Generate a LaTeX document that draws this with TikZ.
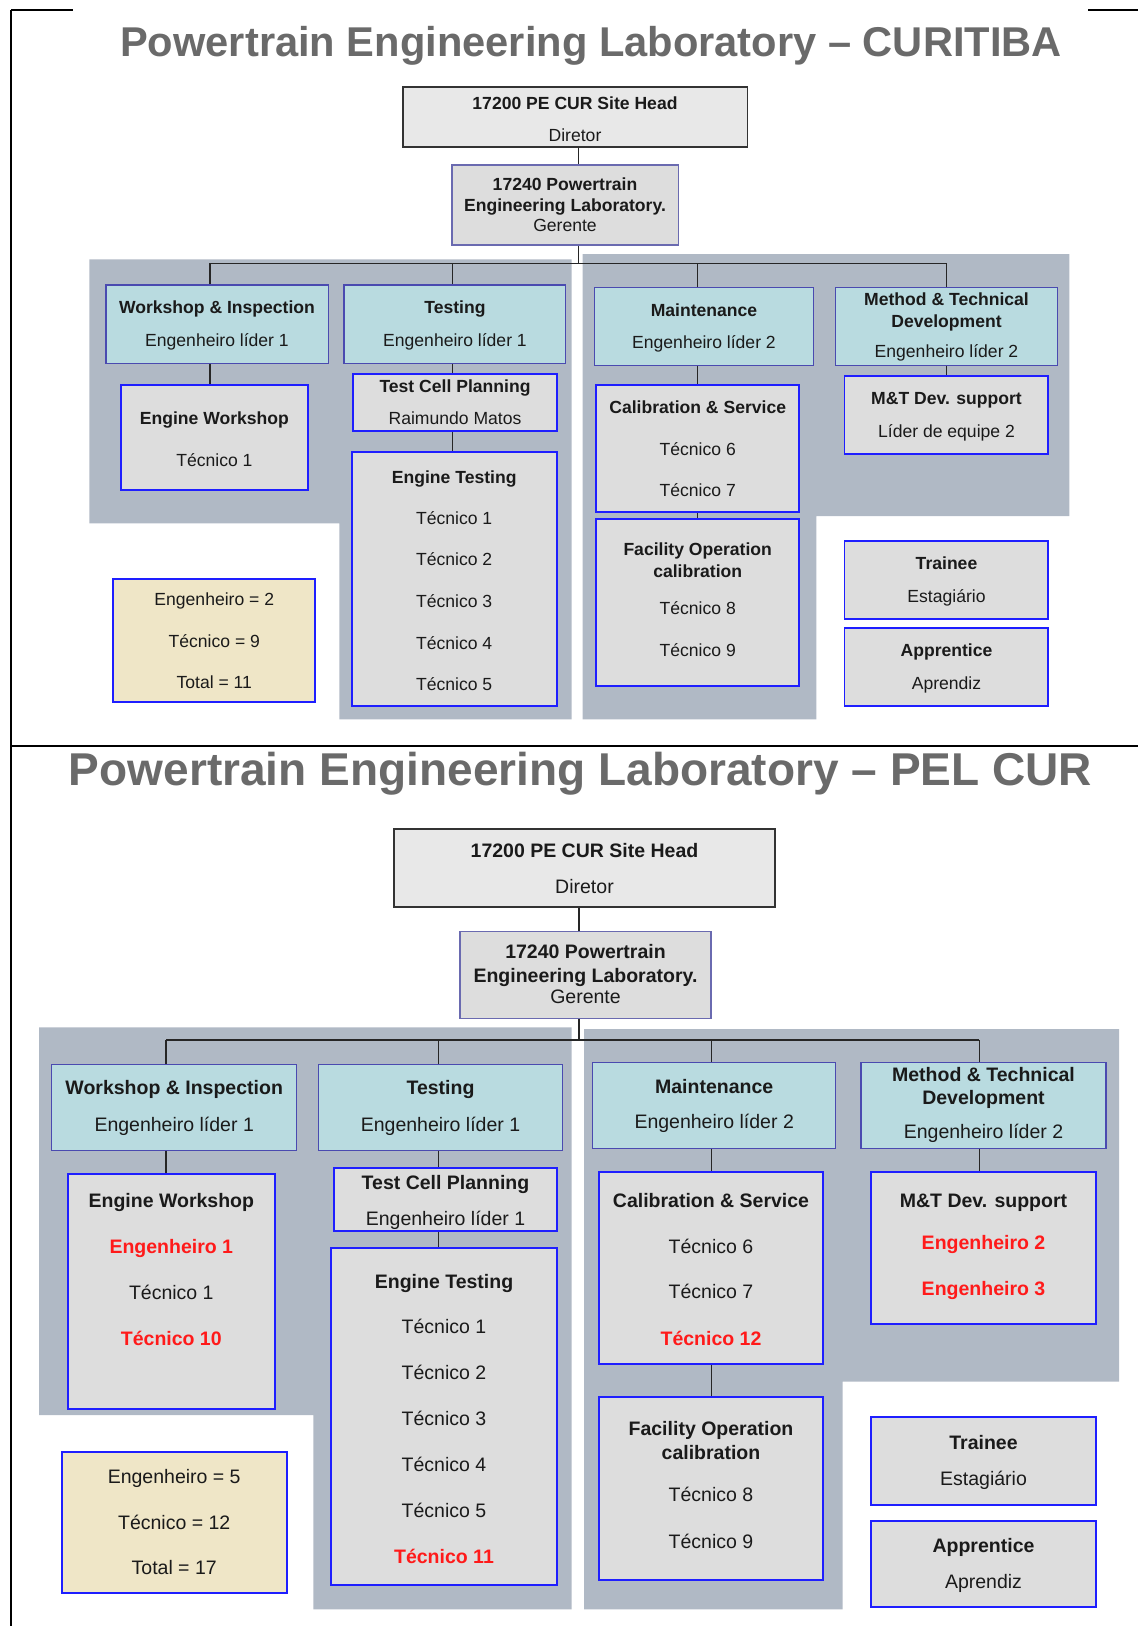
\documentclass[tikz,border=0pt]{standalone}
\usepackage{fontspec}
\setmainfont{Liberation Sans}
\usepackage{xcolor}
\usetikzlibrary{fit}
\definecolor{pelband}{HTML}{B0B9C5}
\definecolor{unitfill}{HTML}{B9DBE0}
\definecolor{unitline}{HTML}{4A4AB0}
\definecolor{teamfill}{HTML}{DDDDDD}
\definecolor{teamline}{HTML}{1E1EFF}
\definecolor{headfill}{HTML}{E8E8E8}
\definecolor{headline}{HTML}{333333}
\definecolor{mgrline}{HTML}{6A6AB0}
\definecolor{sumfill}{HTML}{EFE6C7}
\definecolor{titlegray}{HTML}{6A6A6A}
\definecolor{ink}{HTML}{1A1A1A}
\definecolor{newred}{HTML}{FF1A1A}
\newcommand{\boxfont}{\fontsize{10}{12}\selectfont}

\begin{document}
\begin{tikzpicture}[x=0.02cm, y=-0.02cm,
  frame/.style={line width=1.1pt, black},
  wire/.style={line width=0.7pt, black!85},
  band/.style={fill=pelband, draw=none},
  head/.style={fit={#1}, inner sep=0pt, draw=headline, fill=headfill, line width=1pt},
  mgr/.style={fit={#1}, inner sep=0pt, draw=mgrline, fill=teamfill, line width=0.8pt},
  unit/.style={fit={#1}, inner sep=0pt, draw=unitline, fill=unitfill, line width=0.75pt},
  team/.style={fit={#1}, inner sep=0pt, draw=teamline, fill=teamfill, line width=1pt},
  sum/.style={team={#1}, fill=sumfill},
  t/.style={inner sep=0pt, anchor=mid, yshift=-1.1pt, text=ink, font=\boxfont},
  h/.style={t, font=\boxfont\bfseries},
  new/.style={h, text=newred},
  title/.style={inner sep=0pt, anchor=mid, text=titlegray, font=\bfseries}]
  \useasboundingbox (0,0) rectangle (1138,1626);

  % frame
  \draw[frame] (11,10) -- (73,10);
  \draw[frame] (1088,10) -- (1138,10);
  \draw[frame] (11,10) -- (11,1626);
  \draw[frame] (11,746) -- (1138,746);

  % ---------------- CURITIBA ----------------
  \node[title, font=\fontsize{23.7}{28}\selectfont\bfseries] (ttlT) at (591,52)
    {Powertrain Engineering Laboratory – CURITIBA};
  \fill[band] (89.3,259.3) -- (571.7,259.3) -- (571.7,719.3) -- (339.3,719.3)
    -- (339.3,523.3) -- (89.3,523.3) -- cycle;
  \fill[band] (582.7,254) -- (1069.3,254) -- (1069.3,516) -- (816.4,516)
    -- (816.4,719.3) -- (582.7,719.3) -- cycle;

  \node[head={(402.8,87.3) (747.5,146.7)}] (shT) {};
  \node[h] at (575,102.7) {17200 PE CUR Site Head};
  \node[t] at (575,135) {Diretor};
  \node[mgr={(452,165) (678.5,245)}] (gmT) {};
  \node[h] at (565,184.3) {17240 Powertrain};
  \node[h] at (565,205) {Engineering Laboratory.};
  \node[t] at (565,225) {Gerente};

  \node[unit={(106,285) (328.3,363.3)}] (wiT) {};
  \node[h] at (217,307.3) {Workshop \& Inspection};
  \node[t] at (217,340) {Engenheiro líder 1};
  \node[unit={(344,285) (565.7,363.3)}] (teT) {};
  \node[h] at (455,307.3) {Testing};
  \node[t] at (455,340) {Engenheiro líder 1};
  \node[unit={(594.3,287.3) (813.8,365.7)}] (maT) {};
  \node[h] at (704,310) {Maintenance};
  \node[t] at (704,341.7) {Engenheiro líder 2};
  \node[unit={(835.6,287.3) (1057.3,365.7)}] (mtT) {};
  \node[h] at (946.5,299) {Method \& Technical};
  \node[h] at (946.5,320.7) {Development};
  \node[t] at (946.5,351) {Engenheiro líder 2};

  \node[team={(120.7,385) (308,490)}] (ewT) {};
  \node[h] at (214.4,418.3) {Engine Workshop};
  \node[t] at (214.4,460) {Técnico 1};
  \node[team={(353.3,374.3) (556.7,430.7)}] (tcT) {};
  \node[h] at (455,386) {Test Cell Planning};
  \node[t] at (455,418.3) {Raimundo Matos};
  \node[team={(351.7,452.3) (556.7,706)}] (etT) {};
  \node[h] at (454.2,476.7) {Engine Testing};
  \foreach \i/\y in {1/517.7,2/559.3,3/601,4/642.7,5/684.3}
    \node[t] at (454.2,\y) {Técnico \i};
  \node[team={(596,385) (799.3,512.3)}] (caT) {};
  \node[h] at (697.7,407.3) {Calibration \& Service};
  \node[t] at (697.7,449) {Técnico 6};
  \node[t] at (697.7,490) {Técnico 7};
  \node[team={(596,519.3) (799.3,686)}] (faT) {};
  \node[h] at (697.7,549) {Facility Operation};
  \node[h] at (697.7,570.7) {calibration};
  \node[t] at (697.7,608.3) {Técnico 8};
  \node[t] at (697.7,650) {Técnico 9};
  \node[team={(844.6,376) (1048.3,454)}] (msT) {};
  \node[h] at (946.5,398.3) {M\&T Dev. support};
  \node[t] at (946.5,431) {Líder de equipe 2};

  \node[team={(844.6,541) (1048.3,619.3)}] (trT) {};
  \node[h] at (946.5,563.3) {Trainee};
  \node[t] at (946.5,596) {Estagiário};
  \node[team={(844.6,627.7) (1048.3,706)}] (apT) {};
  \node[h] at (946.5,650) {Apprentice};
  \node[t] at (946.5,682.7) {Aprendiz};
  \node[sum={(113.3,579) (315.3,702.3)}] (smT) {};
  \node[t] at (214.3,599.3) {Engenheiro = 2};
  \node[t] at (214.3,640.7) {Técnico = 9};
  \node[t] at (214.3,682.3) {Total = 11};

  % connectors
  \coordinate (cT) at (578.4,263.3);
  \coordinate (dT1) at (210,263.3);
  \coordinate (dT2) at (452.7,263.3);
  \coordinate (dT3) at (697.5,263.3);
  \coordinate (dT4) at (946.8,263.3);
  \draw[wire] (shT.south -| cT) -- (gmT.north -| cT);
  \draw[wire] (gmT.south -| cT) -- (cT);
  \draw[wire] (dT1) -- (dT4);
  \foreach \n/\d in {wiT/dT1, teT/dT2, maT/dT3, mtT/dT4}
    \draw[wire] (\n.north -| \d) -- (\d);
  \draw[wire] (wiT.south -| dT1) -- (ewT.north -| dT1);
  \draw[wire] (teT.south -| dT2) -- (tcT.north -| dT2);
  \draw[wire] (tcT.south -| dT2) -- (etT.north -| dT2);
  \draw[wire] (maT.south -| dT3) -- (caT.north -| dT3);
  \draw[wire] (caT.south -| dT3) -- (faT.north -| dT3);
  \draw[wire] (mtT.south -| dT4) -- (msT.north -| dT4);

  % ---------------- PEL CUR ----------------
  \begin{scope}
  \def\boxfont{\fontsize{11.1}{13}\selectfont}
  \node[title, font=\fontsize{26.2}{31}\selectfont\bfseries] (ttlB) at (580.5,781)
    {Powertrain Engineering Laboratory – PEL CUR};
  \fill[band] (39,1027.3) -- (571.7,1027.3) -- (571.7,1609.3) -- (313.3,1609.3)
    -- (313.3,1415) -- (39,1415) -- cycle;
  \fill[band] (584,1029) -- (1119,1029) -- (1119,1381.7) -- (842.7,1381.7)
    -- (842.7,1609.3) -- (584,1609.3) -- cycle;

  \node[head={(394,829.3) (775,906.7)}] (shB) {};
  \node[h] at (584.5,850.7) {17200 PE CUR Site Head};
  \node[t] at (584.5,886.7) {Diretor};
  \node[mgr={(460,931.7) (711,1018.3)}] (gmB) {};
  \node[h] at (585.5,951.7) {17240 Powertrain};
  \node[h] at (585.5,975.7) {Engineering Laboratory.};
  \node[t] at (585.5,996.7) {Gerente};

  \node[unit={(51.7,1064.3) (296.7,1150.7)}] (wiB) {};
  \node[h] at (174.2,1088.3) {Workshop \& Inspection};
  \node[t] at (174.2,1125) {Engenheiro líder 1};
  \node[unit={(318.3,1064.3) (562.7,1150.7)}] (teB) {};
  \node[h] at (440.5,1088.3) {Testing};
  \node[t] at (440.5,1125) {Engenheiro líder 1};
  \node[unit={(592.7,1062.7) (835.7,1148.3)}] (maB) {};
  \node[h] at (714.2,1086.7) {Maintenance};
  \node[t] at (714.2,1122.3) {Engenheiro líder 2};
  \node[unit={(861,1062.7) (1106,1148.3)}] (mtB) {};
  \node[h] at (983.5,1075) {Method \& Technical};
  \node[h] at (983.5,1098.3) {Development};
  \node[t] at (983.5,1132.3) {Engenheiro líder 2};

  \node[team={(67.7,1174.3) (275,1409)}] (ewB) {};
  \node[h] at (171.3,1201) {Engine Workshop};
  \node[new] at (171.3,1247.3) {Engenheiro 1};
  \node[t] at (171.3,1292.7) {Técnico 1};
  \node[new] at (171.3,1339) {Técnico 10};
  \node[team={(334,1168.3) (557,1230.7)}] (tcB) {};
  \node[h] at (445.5,1183.3) {Test Cell Planning};
  \node[t] at (445.5,1219) {Engenheiro líder 1};
  \node[team={(330.7,1248.3) (557,1585)}] (etB) {};
  \node[h] at (444,1281.7) {Engine Testing};
  \foreach \i/\y in {1/1326.7,2/1372.7,3/1419,4/1465,5/1511}
    \node[t] at (444,\y) {Técnico \i};
  \node[new] at (444,1556.7) {Técnico 11};
  \node[team={(599,1172.3) (823.3,1364.3)}] (caB) {};
  \node[h] at (711,1200.7) {Calibration \& Service};
  \node[t] at (711,1246.7) {Técnico 6};
  \node[t] at (711,1292.3) {Técnico 7};
  \node[new] at (711,1339) {Técnico 12};
  \node[team={(599,1396.7) (823.3,1580)}] (faB) {};
  \node[h] at (711,1429.3) {Facility Operation};
  \node[h] at (711,1453.3) {calibration};
  \node[t] at (711,1495) {Técnico 8};
  \node[t] at (711,1541.7) {Técnico 9};
  \node[team={(871,1172.3) (1096,1324.3)}] (msB) {};
  \node[h] at (983.5,1200.7) {M\&T Dev. support};
  \node[new] at (983.5,1243.3) {Engenheiro 2};
  \node[new] at (983.5,1289) {Engenheiro 3};

  \node[team={(871,1416.7) (1096,1505)}] (trB) {};
  \node[h] at (983.5,1443.3) {Trainee};
  \node[t] at (983.5,1479) {Estagiário};
  \node[team={(871,1520.7) (1096,1607.3)}] (apB) {};
  \node[h] at (983.5,1545.7) {Apprentice};
  \node[t] at (983.5,1581.7) {Aprendiz};
  \node[sum={(61.7,1452.3) (286.7,1592.7)}] (smB) {};
  \node[t] at (174.2,1476.7) {Engenheiro = 5};
  \node[t] at (174.2,1522.7) {Técnico = 12};
  \node[t] at (174.2,1568.3) {Total = 17};

  % connectors
  \coordinate (cB) at (579,1040);
  \coordinate (dB1) at (166,1040);
  \coordinate (dB2) at (438.7,1040);
  \coordinate (dB3) at (711.7,1040);
  \coordinate (dB4) at (979.3,1040);
  \draw[wire] (shB.south -| cB) -- (gmB.north -| cB);
  \draw[wire] (gmB.south -| cB) -- (cB);
  \draw[wire] (dB1) -- (dB4);
  \foreach \n/\d in {wiB/dB1, teB/dB2, maB/dB3, mtB/dB4}
    \draw[wire] (\n.north -| \d) -- (\d);
  \draw[wire] (wiB.south -| dB1) -- (ewB.north -| dB1);
  \draw[wire] (teB.south -| dB2) -- (tcB.north -| dB2);
  \draw[wire] (tcB.south -| dB2) -- (etB.north -| dB2);
  \draw[wire] (maB.south -| dB3) -- (caB.north -| dB3);
  \draw[wire] (caB.south -| dB3) -- (faB.north -| dB3);
  \draw[wire] (mtB.south -| dB4) -- (msB.north -| dB4);
  \end{scope}
\end{tikzpicture}
\end{document}
